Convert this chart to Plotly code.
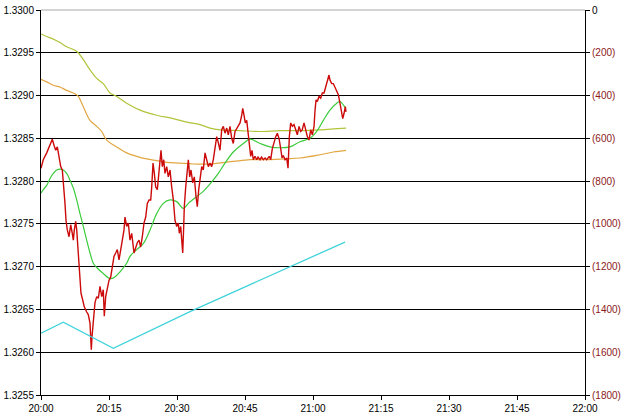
import plotly.graph_objects as go

# ---- data (minutes after 20:00) ----
x_tick_vals = [0, 15, 30, 45, 60, 75, 90, 105, 120]
x_tick_text = ["20:00", "20:15", "20:30", "20:45", "21:00", "21:15", "21:30", "21:45", "22:00"]

left_tick_vals = [1.3255, 1.3260, 1.3265, 1.3270, 1.3275, 1.3280, 1.3285, 1.3290, 1.3295, 1.3300]
right_tick_vals = [0, -200, -400, -600, -800, -1000, -1200, -1400, -1600, -1800]
right_tick_text = ["0", "(200)", "(400)", "(600)", "(800)", "(1000)", "(1200)", "(1400)", "(1600)", "(1800)"]

red_minutes = [
    0, 0.5, 1.26, 1.99, 2.49, 2.87, 3.24, 3.6, 3.97, 4.35,
    4.7, 4.92, 5.07, 5.29, 5.52, 5.8, 6.18, 6.55, 6.9, 7.13,
    7.35, 7.65, 7.88, 8.23, 8.6, 8.82, 9.2, 9.55, 10.08, 10.43,
    10.81, 10.96, 11.1, 11.25, 11.54, 11.91, 12.29, 12.64, 13.02, 13.39,
    13.74, 13.96, 14.27, 14.63, 15.0, 15.38, 15.73, 16.1, 16.48, 16.83,
    17.21, 17.58, 17.94, 18.31, 18.53,
    18.9, 19.26, 19.63, 20.01, 20.52, 20.89, 21.24, 21.62, 21.99, 22.35,
    22.72, 23.1, 23.45, 23.83, 24.2, 24.42, 24.71, 25.0, 25.3, 25.66,
    25.88, 26.19, 26.47, 26.76, 27.07, 27.35, 27.73, 28.08, 28.46, 28.83,
    29.19, 29.56, 29.94, 30.29, 30.51, 30.82, 31.04, 31.26, 31.48, 31.61,
    31.92, 32.21, 32.5, 32.8, 33.09, 33.47, 33.82, 34.19, 34.48, 34.79,
    35.14, 35.45, 35.8, 36.18, 36.55, 36.91, 37.28, 37.66, 38.01, 38.38,
    38.76, 39.11, 39.49, 39.86, 40.22, 40.59,
    40.97, 41.32, 41.69, 42.07, 42.42, 42.8, 43.17, 43.53, 43.9, 44.28,
    44.5, 44.78, 45.07, 45.38, 45.67, 45.95, 46.26, 46.55, 46.83, 47.21,
    47.58, 47.87, 48.31, 48.64, 49.04, 49.42, 49.79, 50.36, 50.67, 51.03,
    51.4, 51.78, 52.13, 52.5, 52.88, 53.17, 53.45, 53.83, 54.2, 54.49,
    54.78, 55.08, 55.44, 55.81, 56.19, 56.54, 56.92, 57.29, 57.64, 58.02,
    58.39, 58.75, 59.12, 59.5, 59.85, 60.23, 60.45, 60.67, 60.95, 61.33,
    61.7, 62.06, 62.43, 62.81, 63.16, 63.53, 63.75, 64.13, 64.48, 64.86,
    65.23, 65.59, 65.96, 66.25, 66.56, 66.84, 67.13, 67.28,
]
red_price = [
    1.32815, 1.32825, 1.32833, 1.32842, 1.32849, 1.32842, 1.32836, 1.32840, 1.32830, 1.32817,
    1.32813, 1.32801, 1.32790, 1.32774, 1.32754, 1.32743, 1.32735, 1.32749, 1.32739, 1.32731,
    1.32743, 1.32753, 1.32743, 1.32716, 1.32688, 1.32669, 1.32661, 1.32653, 1.32647, 1.32644,
    1.32634, 1.32618, 1.32603, 1.32618, 1.32638, 1.32658, 1.32665, 1.32663, 1.32677, 1.32665,
    1.32673, 1.32642, 1.32665, 1.32677, 1.32684, 1.32688, 1.32700, 1.32712, 1.32716, 1.32720,
    1.32708, 1.32723, 1.32731, 1.32743, 1.32758,
    1.32747, 1.32751, 1.32731, 1.32739, 1.32716, 1.32723, 1.32728, 1.32731, 1.32723, 1.32735,
    1.32751, 1.32758, 1.32774, 1.32778, 1.32778, 1.32793, 1.32821, 1.32809, 1.32793, 1.32790,
    1.32801, 1.32821, 1.32836, 1.32817, 1.32825, 1.32809, 1.32817, 1.32805, 1.32813, 1.32793,
    1.32778, 1.32754, 1.32747, 1.32751, 1.32739, 1.32747, 1.32735, 1.32716, 1.32747, 1.32770,
    1.32793, 1.32813, 1.32825, 1.32805, 1.32813, 1.32798, 1.32805, 1.32782, 1.32770, 1.32790,
    1.32805, 1.32817, 1.32813, 1.32833, 1.32825, 1.32817, 1.32821, 1.32817, 1.32825, 1.32836,
    1.32852, 1.32845, 1.32836, 1.32860, 1.32864, 1.32856,
    1.32862, 1.32854, 1.32864, 1.32850, 1.32844, 1.32858, 1.32862, 1.32864, 1.32868, 1.32877,
    1.32885, 1.32877, 1.32868, 1.32871, 1.32858, 1.32840, 1.32829, 1.32836, 1.32825, 1.32829,
    1.32825, 1.32828, 1.32825, 1.32828, 1.32825, 1.32827, 1.32825, 1.32829, 1.32825, 1.32838,
    1.32846, 1.32852, 1.32856, 1.32850, 1.32838, 1.32827, 1.32830, 1.32825, 1.32827, 1.32815,
    1.32852, 1.32868, 1.32864, 1.32866, 1.32860, 1.32854, 1.32864, 1.32858, 1.32860, 1.32868,
    1.32860, 1.32852, 1.32848, 1.32860, 1.32854, 1.32864, 1.32883, 1.32895, 1.32893, 1.32899,
    1.32897, 1.32903, 1.32903, 1.32910, 1.32918, 1.32924, 1.32918, 1.32914, 1.32914, 1.32910,
    1.32906, 1.32901, 1.32891, 1.32883, 1.32873, 1.32879, 1.32887, 1.32881,
]

green_minutes = [0, 0.5, 1.26, 1.99, 2.71, 3.46, 4.19, 4.92, 5.67, 6.4,
                 7.13, 7.88, 8.6, 9.33, 10.08, 10.81, 11.54, 12.29, 13.74, 15.22,
                 16.32, 17.43, 18.9, 19.63, 21.11, 22.57, 24.05, 25.52, 26.98, 28.46,
                 29.94, 31.39, 32.5, 34.35, 35.8, 37.66, 39.11, 40.59, 42.42, 44.63,
                 46.11, 48.31, 50.52, 52.72, 54.93, 57.14, 59.34, 60.82, 62.28, 63.75,
                 65.23, 65.96, 66.69, 67.22]
green_price = [1.32786, 1.32790, 1.32795, 1.32803, 1.32809, 1.32813, 1.32814, 1.32813, 1.32809, 1.32801,
               1.32792, 1.32778, 1.32762, 1.32747, 1.32731, 1.32716, 1.32704, 1.32699, 1.32692, 1.32686,
               1.32688, 1.32694, 1.32704, 1.32712, 1.32720, 1.32727, 1.32743, 1.32762, 1.32774, 1.32778,
               1.32776, 1.32768, 1.32774, 1.32782, 1.32788, 1.32799, 1.32809, 1.32821, 1.32834, 1.32844,
               1.32849, 1.32844, 1.32840, 1.32839, 1.32840, 1.32846, 1.32850, 1.32858, 1.32871, 1.32883,
               1.32891, 1.32893, 1.32889, 1.32885]

olive_minutes = [0, 1.26, 2.71, 4.19, 5.67, 7.5, 8.23, 9.33, 10.81, 12.29,
                 13.74, 15.22, 16.7, 18.9, 21.84, 25.52, 29.19, 32.14, 35.08, 37.28,
                 39.49, 43.9, 48.31, 52.72, 57.14, 61.55, 67.28]
olive_price = [1.32972, 1.32969, 1.32966, 1.32962, 1.32957, 1.32953, 1.32950, 1.32942, 1.32930, 1.32920,
               1.32914, 1.32903, 1.32899, 1.32891, 1.32883, 1.32877, 1.32873, 1.32869, 1.32866, 1.32862,
               1.32860, 1.32859, 1.32858, 1.32859, 1.32859, 1.32860, 1.32862]

orange_minutes = [0, 1.26, 2.71, 4.19, 5.67, 7.5, 8.23, 9.33, 10.81, 12.29,
                  13.39, 14.49, 16.7, 18.9, 21.11, 23.32, 25.52, 27.73, 30.66, 33.6,
                  37.28, 42.42, 46.11, 49.79, 54.2, 57.14, 60.82, 64.48, 67.28]
orange_price = [1.32919, 1.32916, 1.32912, 1.32910, 1.32906, 1.32902, 1.32899, 1.32887, 1.32871, 1.32864,
                1.32858, 1.32848, 1.32840, 1.32833, 1.32829, 1.32826, 1.32824, 1.32822, 1.32821, 1.32820,
                1.32820, 1.32823, 1.32825, 1.32825, 1.32826, 1.32827, 1.32830, 1.32834, 1.32836]

cyan_minutes = [0, 4.92, 15.95, 32.87, 67.06]
cyan_value = [-1511, -1460, -1582, -1410, -1085]

# ---- figure ----
fig = go.Figure()
fig.add_trace(go.Scatter(x=cyan_minutes, y=cyan_value, yaxis="y2", mode="lines",
                         line=dict(color="#3FD3DA", width=1.3), hoverinfo="skip"))
fig.add_trace(go.Scatter(x=olive_minutes, y=olive_price, mode="lines",
                         line=dict(color="#B2C43A", width=1.2, shape="spline"), hoverinfo="skip"))
fig.add_trace(go.Scatter(x=orange_minutes, y=orange_price, mode="lines",
                         line=dict(color="#E2A742", width=1.2, shape="spline"), hoverinfo="skip"))
fig.add_trace(go.Scatter(x=green_minutes, y=green_price, mode="lines",
                         line=dict(color="#3CCB3C", width=1.2, shape="spline"), hoverinfo="skip"))
fig.add_trace(go.Scatter(x=red_minutes, y=red_price, mode="lines",
                         line=dict(color="#CC0A0A", width=1.4), hoverinfo="skip"))

font = dict(family="Liberation Sans, Arial, sans-serif", size=10, color="#000000")
right_text = ["<span style='color:#000000'>" + right_tick_text[0] + "</span>"] + right_tick_text[1:]

fig.update_layout(
    width=625, height=416,
    margin=dict(l=41, r=40, t=10, b=21, pad=0),
    paper_bgcolor="white", plot_bgcolor="white",
    showlegend=False,
    font=font,
    xaxis=dict(range=[0, 120], tickvals=x_tick_vals, ticktext=x_tick_text, automargin=False,
               showgrid=False, zeroline=False, showline=True, linecolor="#000000", linewidth=1,
               ticks="outside", ticklen=4, tickcolor="#000000", tickfont=font),
    yaxis=dict(range=[1.3255, 1.3300], tickvals=left_tick_vals, tickformat=".4f", automargin=False,
               showgrid=True, gridcolor="#000000", gridwidth=1, zeroline=False,
               showline=True, linecolor="#000000", linewidth=1,
               ticks="outside", ticklen=4, tickcolor="#000000", tickfont=font),
    yaxis2=dict(range=[-1800, 0], overlaying="y", side="right", automargin=False,
                tickvals=right_tick_vals, ticktext=right_text,
                showgrid=False, zeroline=False, showline=True, linecolor="#000000", linewidth=1,
                ticks="outside", ticklen=4, tickcolor="#000000",
                tickfont=dict(family="Liberation Sans, Arial, sans-serif", size=10, color="#8B1A1A")),
    shapes=[dict(type="line", xref="paper", yref="paper", x0=0, x1=1, y0=1, y1=1,
                 line=dict(color="#A8A8A8", width=1), layer="above")],
)

fig.write_html("out.html")
